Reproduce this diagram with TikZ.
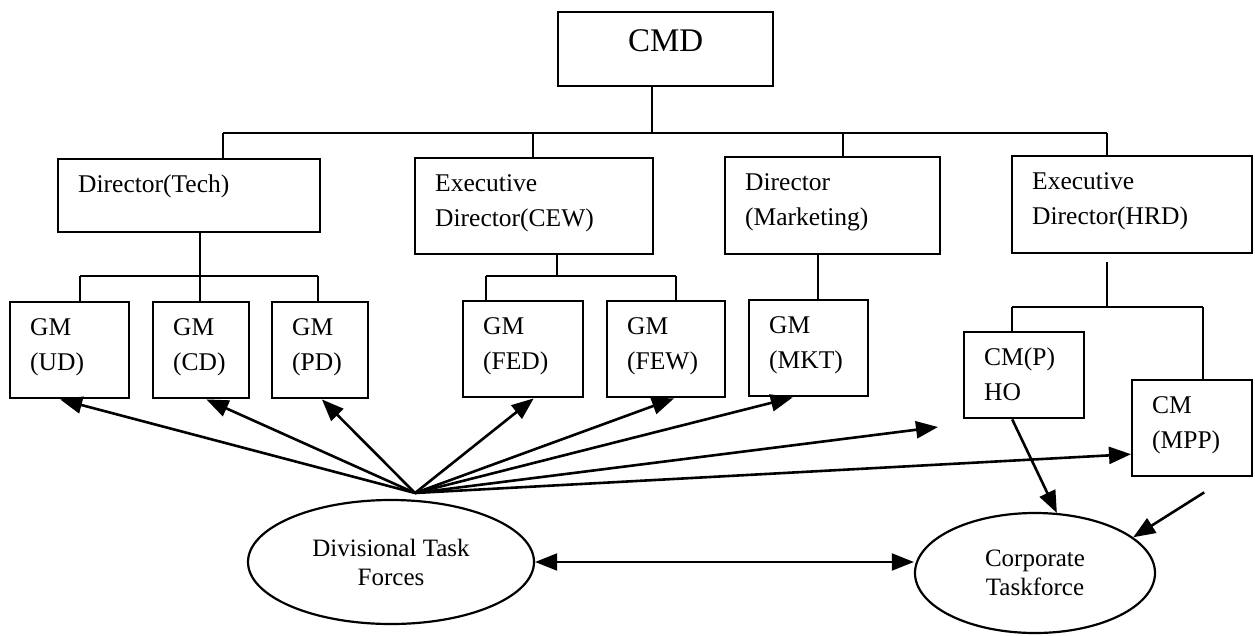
\documentclass[tikz,border=0pt]{standalone}
\usepackage{fontspec}
\setmainfont{Liberation Serif}
\usetikzlibrary{shapes.geometric}
\usetikzlibrary{arrows.meta}

\begin{document}
\begin{tikzpicture}[x=1pt, y=-1pt,
	    font=\fontsize{25.5}{35}\selectfont,
	    orgbox/.style 2 args={draw, line width=2.4pt, anchor=north west,
	      inner xsep=20pt, inner ysep=0pt, align=left,
	      text width=#1pt-40pt, text height=33pt, text depth=#2pt-33pt},
	    taskforce/.style={draw, ellipse, line width=2.2pt, inner sep=0pt,
	      align=center, font=\fontsize{25}{29}\selectfont},
	    orgline/.style={line width=2pt},
	    link/.style={line width=2.6pt, -{Triangle[length=22pt,width=17pt]}}]
	    \useasboundingbox (0,0) rectangle (1255,635);

	    % boxes
	    \node[draw, line width=2.4pt, anchor=north west, inner sep=0pt,
	      minimum width=215pt, text height=39pt, text depth=35pt,
	      font=\fontsize{33}{40}\selectfont] (cmd) at (557,11) {CMD};
	    \node[orgbox={262}{73}] (tech) at (57,158) {Director(Tech)};
	    \node[orgbox={238}{96}] (cew) at (414,157) {Executive\\Director(CEW)};
	    \node[orgbox={215}{97}] (mkt) at (724,156) {Director\\(Marketing)};
	    \node[orgbox={240}{97}] (hrd) at (1011,155) {Executive\\Director(HRD)};
	    \node[orgbox={119}{96}] (ud) at (9,301) {GM\\(UD)};
	    \node[orgbox={96}{96}] (cd) at (152,301) {GM\\(CD)};
	    \node[orgbox={96}{96}] (pd) at (271,301) {GM\\(PD)};
	    \node[orgbox={120}{96}] (fed) at (462,300) {GM\\(FED)};
	    \node[orgbox={118}{96}] (few) at (606,300) {GM\\(FEW)};
	    \node[orgbox={119}{96}] (gmkt) at (748,299) {GM\\(MKT)};
	    \node[orgbox={120}{86}] (cmp) at (963,331) {CM(P)\\HO};
	    \node[orgbox={120}{96}] (mpp) at (1131,379) {CM\\(MPP)};

	    % task forces
	    \node[taskforce, minimum width=286pt, minimum height=124pt] (div)
	      at (391,562) {Divisional Task\\Forces};
	    \node[taskforce, minimum width=240pt, minimum height=120pt] (corp)
	      at (1035,573) {Corporate\\Taskforce};

	    % reporting lines
	    \draw[orgline] (cmd.south -| 652,0) -- (652,133);
	    \draw[orgline] (223,133) -- (1107,133);
	    \foreach \n/\x in {tech/223, cew/533, mkt/843, hrd/1107}
	      \draw[orgline] (\x,133) -- (\n.north -| \x,0);

	    \draw[orgline] (tech.south -| 200,0) -- (200,276);
	    \draw[orgline] (80,276) -- (318,276);
	    \foreach \n/\x in {ud/80, cd/200, pd/318}
	      \draw[orgline] (\x,276) -- (\n.north -| \x,0);

	    \draw[orgline] (cew.south -| 557,0) -- (557,276);
	    \draw[orgline] (486,276) -- (676,276);
	    \foreach \n/\x in {fed/486, few/676}
	      \draw[orgline] (\x,276) -- (\n.north -| \x,0);

	    \draw[orgline] (mkt.south -| 818,0) -- (gmkt.north -| 818,0);

	    \draw[orgline, shorten <=8pt] (hrd.south -| 1107,0) -- (1107,307);
	    \draw[orgline] (1012,307) -- (1203,307);
	    \foreach \n/\x in {cmp/1012, mpp/1203}
	      \draw[orgline] (\x,307) -- (\n.north -| \x,0);

	    % task force arrows
	    \coordinate (hub) at (415,493);
	    \coordinate (loose) at (938,427);
	    \foreach \n/\a in {ud/259, cd/276, pd/272, fed/282, few/279, gmkt/252, mpp/203}
	      \draw[link] (hub) -- (\n.\a);
	    \draw[link] (hub) -- (loose);
	    \draw[link] ([xshift=-12pt]cmp.south) -- (corp.70);
	    \draw[link] ([shift={(12,15)}]mpp.south) -- (corp.20);
	    \draw[orgline, {Triangle[length=22pt,width=17pt]}-{Triangle[length=22pt,width=17pt]}]
	      (div.east) -- (div.east -| corp.west);
	  \end{tikzpicture}
\end{document}
